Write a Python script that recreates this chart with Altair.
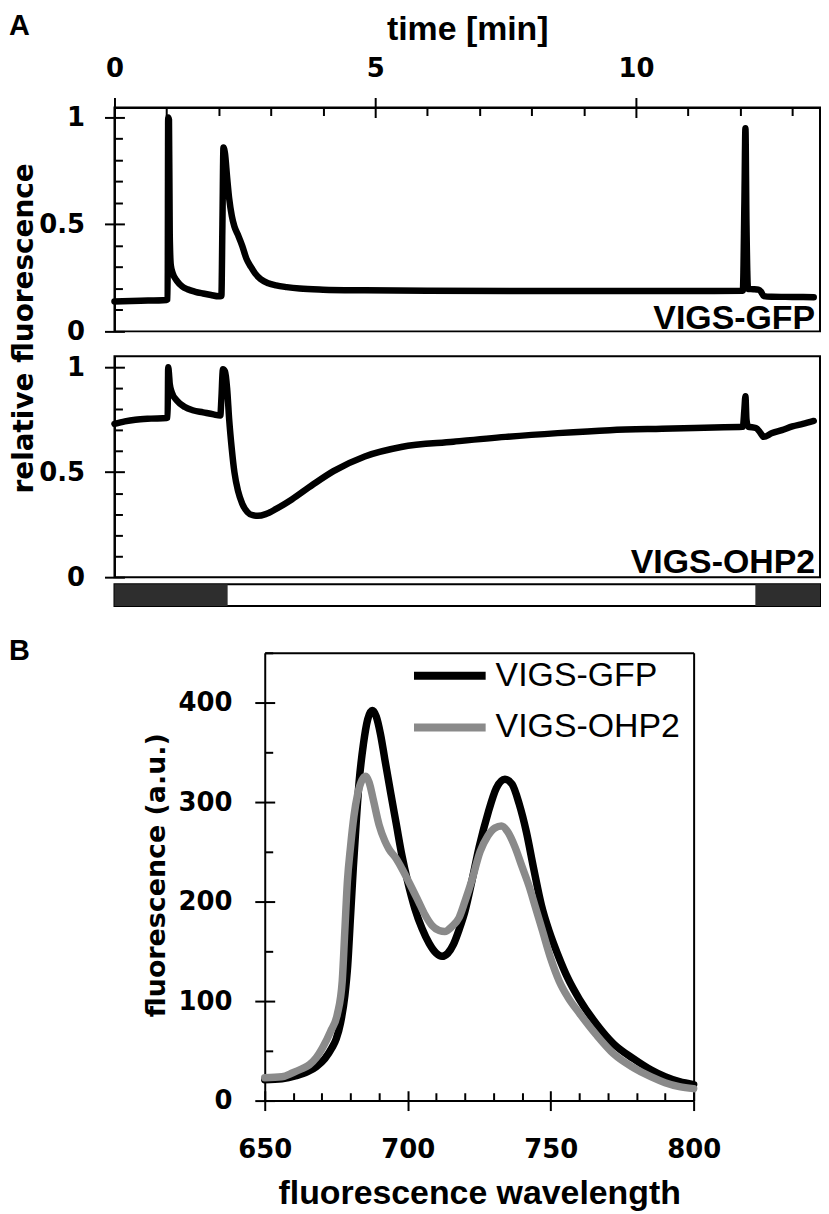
import altair as alt
import pandas as pd

# ---------------- Panel A: relative fluorescence vs time ----------------
T_GFP = [0.0, 0.5, 1.0, 1.02, 1.03, 1.045, 1.06, 1.08, 1.12, 1.2, 1.3, 1.4, 1.55, 1.7, 1.85, 2.0,
         2.05, 2.07, 2.09, 2.12, 2.16, 2.2, 2.25, 2.3, 2.37, 2.45, 2.53, 2.62, 2.7, 2.8, 2.95, 3.1,
         3.3, 3.55, 4.0, 4.8, 6.0, 8.0, 10.0, 11.5, 12.05, 12.08, 12.1, 12.12, 12.15, 12.25, 12.35,
         12.4, 12.45, 12.6, 13.0, 13.41]
F_GFP = [0.14, 0.143, 0.147, 0.15, 1.0, 0.99, 0.45, 0.31, 0.27, 0.235, 0.21, 0.197, 0.185, 0.177,
         0.17, 0.164, 0.165, 0.5, 0.86, 0.83, 0.72, 0.62, 0.54, 0.49, 0.45, 0.4, 0.34, 0.3, 0.27,
         0.245, 0.225, 0.215, 0.207, 0.2, 0.195, 0.192, 0.19, 0.189, 0.189, 0.189, 0.19, 0.6, 0.95,
         0.5, 0.198, 0.197, 0.195, 0.185, 0.165, 0.162, 0.161, 0.16]

T_OHP2 = [0.0, 0.2, 0.4, 0.7, 1.0, 1.02, 1.03, 1.045, 1.06, 1.1, 1.2, 1.35, 1.5, 1.7, 1.9, 2.03,
          2.05, 2.08, 2.12, 2.16, 2.2, 2.25, 2.3, 2.37, 2.45, 2.55, 2.65, 2.75, 2.9, 3.1, 3.4, 3.8,
          4.2, 4.8, 5.5, 6.5, 7.5, 8.5, 9.5, 10.5, 11.5, 12.05, 12.08, 12.1, 12.12, 12.15, 12.3,
          12.38, 12.45, 12.6, 12.8, 13.0, 13.2, 13.41]
F_OHP2 = [0.73, 0.742, 0.75, 0.755, 0.758, 0.76, 1.0, 0.97, 0.92, 0.88, 0.84, 0.81, 0.795, 0.785,
          0.775, 0.77, 0.85, 0.99, 0.98, 0.9, 0.75, 0.61, 0.5, 0.41, 0.35, 0.31, 0.295, 0.292, 0.3,
          0.325, 0.37, 0.44, 0.505, 0.575, 0.62, 0.645, 0.668, 0.686, 0.7, 0.707, 0.713, 0.716, 0.8,
          0.862, 0.75, 0.717, 0.71, 0.69, 0.668, 0.685, 0.7, 0.718, 0.73, 0.744]

# dark phases of the light regime bar (minutes)
DARK_START = [0.0, 12.29]
DARK_END = [2.17, 13.53]

PANEL_LABELS = ["VIGS-GFP", "VIGS-OHP2"]

TIME_TICKS = list(range(0, 14))
REL_TICKS = [0, 0.1, 0.2, 0.3, 0.4, 0.5, 0.6, 0.7, 0.8, 0.9, 1.0]

# ---------------- Panel B: emission spectra ----------------
WL_GFP = [650, 656, 661, 665, 668, 671, 673.5, 675, 676.5, 678, 679, 680, 681, 682, 683, 684.5, 686,
          687.6, 689, 690.5, 692, 694, 696, 698, 700, 702.5, 705, 707.5, 710, 712, 714, 716,
          718, 720, 722.4, 725, 728.2, 731, 734, 736.5, 739, 741.5, 744, 746.8, 749.5, 752.6, 756,
          760, 766, 772, 779, 785, 790, 795, 800]
SP_GFP = [21, 22, 25, 29, 34, 42, 53, 62, 78, 105, 135, 185, 235, 280, 320, 358, 383, 392, 386, 368,
          343, 310, 278, 246, 220, 193, 173, 158, 148, 145, 148, 157, 172, 190, 220, 255, 290, 314,
          323, 318, 298, 270, 234, 196, 170, 146, 123, 102, 77, 57, 42, 31, 24, 19, 16]

WL_OHP2 = [650, 656, 659.8, 663, 665.6, 668, 670.2, 673.1, 675.4, 677.1, 678, 678.9, 680, 681.2,
           682.5, 684, 685.3, 686.5, 688, 690, 692, 693.4, 696, 698, 700, 703.8, 706, 708.5, 711,
           713, 715.5, 718, 720, 722.4, 725.3, 728, 730.5, 732.8, 735, 737.5, 740, 742.5, 744.5,
           747, 750, 753, 756, 760, 766, 772, 779, 785, 790, 795, 800]
SP_OHP2 = [23, 24, 28, 32, 36, 43, 53, 70, 87, 120, 170, 220, 255, 286, 308, 322, 326, 320, 302, 277,
           261, 253, 243, 233, 222, 200, 187, 176, 171, 170, 175, 184, 200, 221, 250, 266, 274, 276,
           270, 255, 235, 215, 196, 172, 143, 120, 104, 88, 66, 47, 33, 24, 18, 14, 12]

WL_TICKS = list(range(650, 801, 10))
SP_TICKS = list(range(0, 451, 50))

# ---------------- layout constants ----------------
W_A = 709
H_A1 = 225
H_A2 = 222
H_STRIP = 22
GAP1, GAP2, GAP3 = 25, 7, 47
T_MAX = 13.53
B_X0, B_X1 = 151, 582
H_B = 450
B_TOP = H_A1 + GAP1 + H_A2 + GAP2 + H_STRIP + GAP3

AX = dict(domainColor="black", domainWidth=2, tickColor="black", tickWidth=2, tickSize=10,
          gridColor="black", gridWidth=2, gridOpacity=1, labelColor="black",
          labelFont="DejaVu Sans", labelFontSize=26, labelFontWeight="bold",
          labelOverlap=False, labelFlush=False, titleColor="black", titleFontWeight="bold")


def cond(test, a, b):
    return {"condition": {"test": test, "value": a}, "value": b}


def lab(test):
    return f"({test}) ? format(datum.value, '~g') : ''"


T_MAJ = "datum.value % 5 === 0"
R_MAJ = "abs(datum.value * 2 - round(datum.value * 2)) < 0.001"
W_MAJ = "datum.value % 50 === 0"
S_MAJ = "datum.value % 100 === 0"

df_gfp = pd.DataFrame({"t": T_GFP, "f": F_GFP})
df_ohp = pd.DataFrame({"t": T_OHP2, "f": F_OHP2})

x_scale_A = alt.Scale(domain=[0, T_MAX], nice=False, zero=False)

x_axis_A1 = alt.Axis(orient="top", values=TIME_TICKS, tickOpacity=cond(T_MAJ, 1, 0), grid=True,
                     gridDash=cond(T_MAJ, [0, H_A1 - 10, 10, 3000], [0, H_A1 - 8, 8, 3000]),
                     labelExpr=lab(T_MAJ), labelBaseline="alphabetic", labelPadding=21,
                     title="time [min]", titleFont="Liberation Sans", titleFontSize=34,
                     titleX=W_A / 2, titleY=-68, titleAlign="center", titleBaseline="alphabetic",
                     **AX)


def y_axis_A(title, with_title):
    kw = dict(orient="left", values=REL_TICKS, tickOpacity=cond(R_MAJ, 1, 0), grid=True,
              gridDash=cond(R_MAJ, [10, 3000], [8, 3000]), labelExpr=lab(R_MAJ),
              labelPadding=20, labelBaseline="middle")
    if with_title:
        kw.update(title=title, titleFont="DejaVu Sans", titleFontSize=28, titleAngle=270,
                  titleX=-82, titleY=221.5, titleAlign="center", titleBaseline="alphabetic")
    else:
        kw.update(title="")
    return alt.Axis(**kw, **AX)


def corner_text(text, x, y, size, weight="bold", align="right"):
    return alt.Chart(pd.DataFrame({"lab": [text]})).mark_text(
        align=align, baseline="alphabetic", font="Liberation Sans", fontSize=size,
        fontWeight=weight, color="black").encode(text="lab:N", x=alt.value(x), y=alt.value(y))


line_kw = dict(color="black", strokeWidth=6.5, interpolate="monotone", strokeCap="round",
               strokeJoin="round")

A1_line = alt.Chart(df_gfp).mark_line(**line_kw).encode(
    x=alt.X("t:Q", scale=x_scale_A, axis=x_axis_A1),
    y=alt.Y("f:Q", scale=alt.Scale(domain=[0, 1.0465], nice=False),
            axis=y_axis_A("relative fluorescence", True)))
A1 = alt.layer(A1_line, corner_text(PANEL_LABELS[0], 704, 223, 34),
               corner_text("A", -106, -73, 29, align="left")).properties(width=W_A, height=H_A1)

A2_line = alt.Chart(df_ohp).mark_line(**line_kw).encode(
    x=alt.X("t:Q", scale=x_scale_A, axis=None),
    y=alt.Y("f:Q", scale=alt.Scale(domain=[0, 1.052], nice=False), axis=y_axis_A("", False)))
A2 = alt.layer(A2_line, corner_text(PANEL_LABELS[1], 704, 218, 34)).properties(width=W_A, height=H_A2)

strip = alt.Chart(pd.DataFrame({"s": DARK_START, "e": DARK_END})).mark_rect(color="#2e2e2e").encode(
    x=alt.X("s:Q", scale=x_scale_A, axis=None), x2="e:Q").properties(width=W_A, height=H_STRIP)


def spacer(h):
    return alt.Chart(pd.DataFrame({"s": [0]})).mark_point(opacity=0).encode(
        x=alt.X("s:Q", axis=None), y=alt.Y("s:Q", axis=None)).properties(
        width=W_A, height=h, view=alt.ViewBackground(stroke="transparent"))


# ---------------- Panel B ----------------
df_b = pd.concat([
    pd.DataFrame({"wl": WL_GFP, "fl": SP_GFP, "series": PANEL_LABELS[0]}),
    pd.DataFrame({"wl": WL_OHP2, "fl": SP_OHP2, "series": PANEL_LABELS[1]}),
], ignore_index=True)

x_scale_B = alt.Scale(domain=[650, 800], range=[B_X0, B_X1], nice=False, zero=False)
y_scale_B = alt.Scale(domain=[0, 450], nice=False)

x_axis_B = alt.Axis(orient="bottom", values=WL_TICKS, tickOpacity=cond(W_MAJ, 1, 0), grid=True,
                    gridDash=cond(W_MAJ, [0, H_B - 10, 10, 3000], [0, H_B - 8, 8, 3000]),
                    labelExpr=lab(W_MAJ), labelBaseline="alphabetic", labelPadding=47,
                    title="fluorescence wavelength", titleFont="Liberation Sans", titleFontSize=34,
                    titleX=(B_X0 + B_X1) / 2, titleY=103, titleAlign="center",
                    titleBaseline="alphabetic", **AX)
y_axis_B = alt.Axis(orient="left", offset=-B_X0, values=SP_TICKS, tickOpacity=cond(S_MAJ, 1, 0),
                    grid=True, gridDash=cond(S_MAJ, [10, 3000], [8, 3000]), labelExpr=lab(S_MAJ),
                    labelPadding=23, labelBaseline="middle",
                    title="fluorescence (a.u.)", titleFont="DejaVu Sans", titleFontSize=27,
                    titleAngle=270, titleX=-101, titleY=223, titleAlign="center",
                    titleBaseline="alphabetic", **AX)

B_lines = alt.Chart(df_b).mark_line(strokeWidth=7.5, interpolate="monotone", strokeCap="round",
                                    strokeJoin="round").encode(
    x=alt.X("wl:Q", scale=x_scale_B, axis=x_axis_B),
    y=alt.Y("fl:Q", scale=y_scale_B, axis=y_axis_B),
    color=alt.Color("series:N", scale=alt.Scale(domain=PANEL_LABELS, range=["#000000", "#8a8a8a"]),
                    legend=alt.Legend(title=None, orient="none", legendX=297, legendY=B_TOP + 8,
                                      symbolType="stroke", symbolSize=5184, symbolStrokeWidth=8,
                                      clipHeight=30, labelFont="Liberation Sans", labelFontSize=34,
                                      labelFontWeight="normal", labelColor="black", labelOffset=6,
                                      rowPadding=18, padding=0, labelLimit=400)))

frame_axis = dict(domain=True, ticks=False, labels=False, grid=False, title="",
                  domainColor="black", domainWidth=2)
B_frame = alt.Chart(df_b).mark_line(strokeOpacity=0).encode(
    x=alt.X("wl:Q", scale=x_scale_B, axis=alt.Axis(orient="top", **frame_axis)),
    y=alt.Y("fl:Q", scale=y_scale_B, axis=alt.Axis(orient="right", **frame_axis)))

B = alt.layer(B_lines, B_frame, corner_text("B", -106, 7, 29, align="left")).resolve_axis(
    x="independent", y="independent").properties(
    width=B_X1, height=H_B, view=alt.ViewBackground(stroke="transparent"))

chart = alt.vconcat(A1, spacer(GAP1), A2, spacer(GAP2), strip, spacer(GAP3), B,
                    spacing=0, bounds="flush").properties(
    padding=0, background="white").configure_view(stroke="black", strokeWidth=2)

chart.save("out.html", embed_options={"renderer": "svg", "actions": False})
